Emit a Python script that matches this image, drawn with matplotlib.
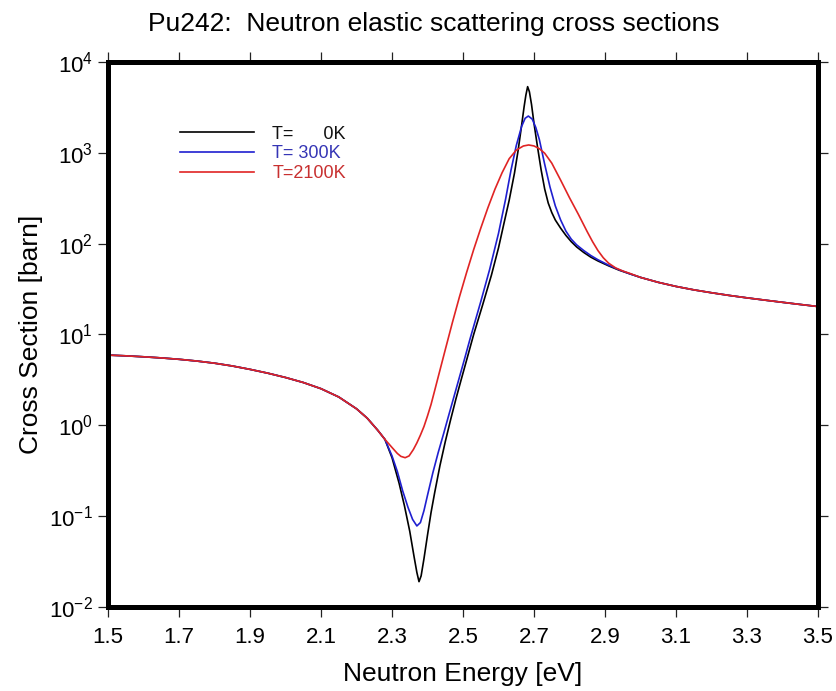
import numpy as np
import matplotlib
matplotlib.use("Agg")
import matplotlib.pyplot as plt
from matplotlib.ticker import FixedLocator, LogFormatterSciNotation, NullLocator

FONT = ['Liberation Sans', 'DejaVu Sans']

# Shared low-energy part (all temperatures overlap)
e_left = [1.50, 1.55, 1.60, 1.65, 1.70, 1.75, 1.80, 1.85, 1.90, 1.95,
          2.00, 2.05, 2.10, 2.15, 2.20, 2.23, 2.26]
xs_left = [5.93, 5.82, 5.68, 5.52, 5.33, 5.10, 4.83, 4.50, 4.13, 3.75,
           3.36, 2.96, 2.53, 2.05, 1.52, 1.20, 0.88]

# Shared high-energy tail
e_tail = [3.00, 3.05, 3.10, 3.15, 3.20, 3.25, 3.30, 3.35, 3.40, 3.45, 3.50]
xs_tail = [42.5, 37.5, 33.8, 31.0, 28.8, 26.9, 25.3, 23.9, 22.6, 21.4, 20.3]

# Resonance region, T = 0K
e_0k = [2.28, 2.30, 2.32, 2.335, 2.35, 2.362, 2.37, 2.376, 2.382, 2.39,
        2.40, 2.41, 2.42, 2.435, 2.45, 2.465, 2.48, 2.495, 2.51, 2.53,
        2.555, 2.58, 2.60, 2.615, 2.63, 2.645, 2.655, 2.665, 2.672, 2.677,
        2.682, 2.687, 2.693, 2.70, 2.71, 2.72, 2.73, 2.74, 2.75, 2.76,
        2.775, 2.79, 2.805, 2.82, 2.84, 2.86, 2.88, 2.91, 2.94, 2.97]
xs_0k = [0.70, 0.44, 0.23, 0.13, 0.068, 0.036, 0.024, 0.019, 0.022, 0.034,
         0.062, 0.11, 0.18, 0.36, 0.66, 1.15, 1.95, 3.2, 5.2, 10.0,
         21, 45, 90, 165, 300, 600, 1050, 2000, 3200, 4300,
         5350, 4700, 3400, 2100, 1150, 650, 400, 280, 220, 182,
         148, 123, 105, 92, 80, 71, 64.5, 57, 51, 46.5]

# Resonance region, T = 300K
e_300k = [2.28, 2.30, 2.315, 2.33, 2.345, 2.358, 2.37, 2.38, 2.39, 2.40,
          2.415, 2.43, 2.445, 2.46, 2.475, 2.49, 2.505, 2.52, 2.55, 2.575,
          2.60, 2.62, 2.635, 2.65, 2.665, 2.675, 2.684, 2.695, 2.705, 2.715,
          2.73, 2.745, 2.76, 2.775, 2.79, 2.805, 2.82, 2.84, 2.86, 2.88,
          2.91, 2.94, 2.97]
xs_300k = [0.70, 0.46, 0.31, 0.19, 0.125, 0.092, 0.078, 0.085, 0.115, 0.17,
           0.30, 0.50, 0.80, 1.30, 2.1, 3.4, 5.5, 9.0, 23, 52,
           130, 310, 640, 1200, 1950, 2400, 2540, 2350, 1900, 1400,
           750, 420, 260, 182, 137, 112, 97, 84, 74, 66.5,
           58, 51.5, 46.5]

# Resonance region, T = 2100K
e_2100k = [2.28, 2.30, 2.315, 2.325, 2.337, 2.348, 2.36, 2.37, 2.38, 2.39,
           2.40, 2.41, 2.42, 2.43, 2.45, 2.47, 2.49, 2.51, 2.53, 2.55,
           2.57, 2.59, 2.61, 2.63, 2.65, 2.67, 2.685, 2.70, 2.715, 2.73,
           2.75, 2.775, 2.80, 2.825, 2.85, 2.865, 2.88, 2.895, 2.91, 2.93,
           2.95, 2.97]
xs_2100k = [0.70, 0.57, 0.49, 0.455, 0.44, 0.46, 0.54, 0.64, 0.78, 0.97,
            1.27, 1.70, 2.40, 3.40, 6.8, 13.5, 26, 48, 86, 148,
            248, 398, 603, 861, 1070, 1189, 1220, 1190, 1110, 990,
            770, 500, 320, 210, 135, 105, 84, 70, 61, 54,
            50, 47]

labels = ['T=      0K', 'T= 300K', 'T=2100K']
colors = ['#000000', '#1f1fd0', '#e02424']
text_colors = ['#111111', '#3535b5', '#c83030']

x_ticks = [1.5, 1.7, 1.9, 2.1, 2.3, 2.5, 2.7, 2.9, 3.1, 3.3, 3.5]
y_ticks = [1e-2, 1e-1, 1e0, 1e1, 1e2, 1e3, 1e4]


def full_curve(e_mid, xs_mid):
    """Join the shared parts with one temperature's resonance region"""
    e = np.array(e_left + e_mid + e_tail)
    xs = np.array(xs_left + xs_mid + xs_tail)
    return e, xs


def main():
    plt.rcParams['font.family'] = FONT
    plt.rcParams['mathtext.fontset'] = 'custom'
    plt.rcParams['mathtext.rm'] = FONT[0]

    fig = plt.figure(figsize=(8.36, 6.91), dpi=100)
    ax = fig.add_axes([0.1292, 0.1216, 0.8493, 0.7887])

    curves = [full_curve(e_0k, xs_0k),
              full_curve(e_300k, xs_300k),
              full_curve(e_2100k, xs_2100k)]
    for (e, xs), lab, col in zip(curves, labels, colors):
        ax.plot(e, xs, color=col, lw=1.2, label=lab)

    ax.set_yscale('log')
    ax.set_xlim(1.5, 3.5)
    ax.set_ylim(1e-2, 1e4)

    ax.xaxis.set_major_locator(FixedLocator(x_ticks))
    ax.set_xticklabels([f'{t:.1f}' for t in x_ticks])
    ax.yaxis.set_major_locator(FixedLocator(y_ticks))
    ax.yaxis.set_major_formatter(LogFormatterSciNotation())
    ax.yaxis.set_minor_locator(NullLocator())

    ax.tick_params(which='major', direction='out', length=7, width=0.9,
                   top=True, right=True, labelsize=16, pad=4, color='#222222')
    ax.tick_params(axis='x', pad=7.5)
    for side in ax.spines.values():
        side.set_linewidth(3.6)

    ax.set_xlabel('Neutron Energy [eV]', fontsize=19, labelpad=10)
    ax.set_ylabel('Cross Section [barn]', fontsize=19, labelpad=4)
    ax.set_title('Pu242:  Neutron elastic scattering cross sections',
                 fontsize=19, loc='left', x=0.057, pad=22)

    leg = ax.legend(loc='upper left', bbox_to_anchor=(0.079, 0.913),
                    frameon=False, fontsize=13, handlelength=4.1,
                    handletextpad=1.0, labelspacing=0.15)
    for txt, col in zip(leg.get_texts(), text_colors):
        txt.set_color(col)

    fig.savefig('out.png', dpi=100)


if __name__ == "__main__":
    main()
